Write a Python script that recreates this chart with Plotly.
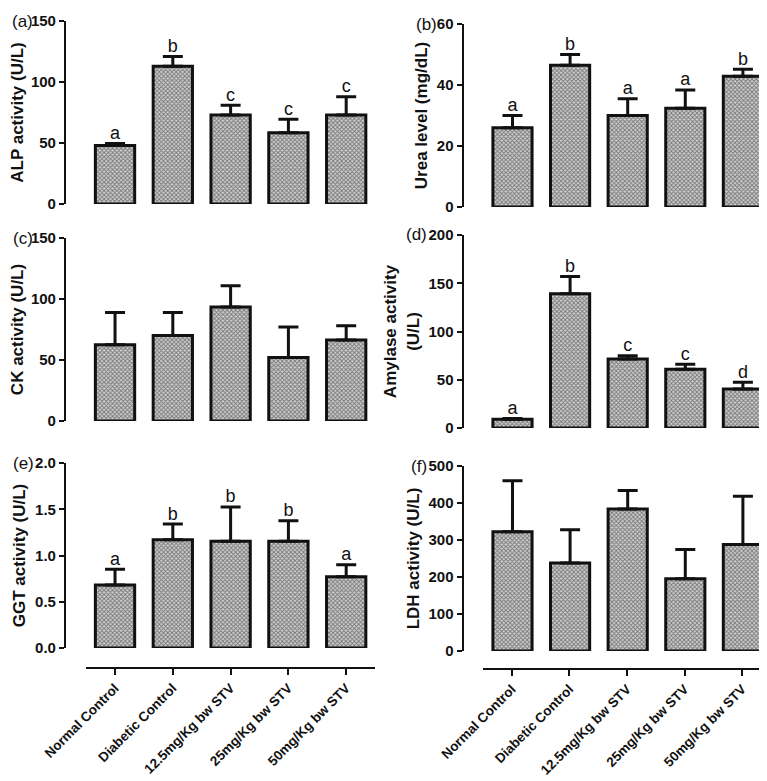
import plotly.graph_objects as go

groups = ['Normal Control', 'Diabetic Control', '12.5mg/Kg bw STV',
          '25mg/Kg bw STV', '50mg/Kg bw STV']

alp = [48, 113, 73, 58.5, 73]
alp_err = [1.5, 8, 8, 11, 15]
alp_letters = ['a', 'b', 'c', 'c', 'c']

urea = [26, 46.5, 30, 32.4, 42.9]
urea_err = [4, 3.5, 5.5, 6, 2.3]
urea_letters = ['a', 'b', 'a', 'a', 'b']

ck = [62.5, 70, 93.4, 52, 66.4]
ck_err = [26.5, 19, 17.5, 25, 11.7]

amylase = [9, 139, 71.5, 61, 40.4]
amylase_err = [0.8, 18, 3.5, 5, 7]
amylase_letters = ['a', 'b', 'c', 'c', 'd']

ggt = [0.68, 1.17, 1.155, 1.155, 0.77]
ggt_err = [0.17, 0.17, 0.37, 0.22, 0.13]
ggt_letters = ['a', 'b', 'b', 'b', 'a']

ldh = [322, 238, 384, 195, 288]
ldh_err = [138, 90, 50, 79, 130]

FONT = 'Liberation Sans'
W, H = 767, 781

def py(p):
    # pixel row -> paper y
    return 1 - p / H

# (values, errors, letters, y max, dtick, title, label, label gap, x domain, y domain, tickformat)
panels = [
    (alp, alp_err, alp_letters, 150, 50, 'ALP activity (U/L)', '(a)', 31,
     [0.0755, 0.4786], [py(196), py(13)], None),
    (urea, urea_err, urea_letters, 60, 20, 'Urea level (mg/dL)', '(b)', 25,
     [0.5939, 0.9957], [py(199), py(16)], None),
    (ck, ck_err, None, 150, 50, 'CK activity (U/L)', '(c)', 31,
     [0.0755, 0.4786], [py(413), py(230)], None),
    (amylase, amylase_err, amylase_letters, 200, 50, 'Amylase activity<br>(U/L)', '(d)', 35,
     [0.5939, 0.9957], [py(420), py(227)], None),
    (ggt, ggt_err, ggt_letters, 2.0, 0.5, 'GGT activity (U/L)', '(e)', 30,
     [0.0755, 0.4786], [py(640), py(455)], '.1f'),
    (ldh, ldh_err, None, 500, 100, 'LDH activity (U/L)', '(f)', 35,
     [0.5939, 0.9957], [py(643), py(458)], None),
]

fig = go.Figure()
layout = {}
annotations = []

for i, (vals, errs, letters, ymax, dt, title, lab, gap, xd, yd, tf) in enumerate(panels, start=1):
    xa = 'x' if i == 1 else f'x{i}'
    ya = 'y' if i == 1 else f'y{i}'
    fig.add_trace(go.Bar(
        x=groups, y=vals, xaxis=xa, yaxis=ya, width=0.68,
        marker=dict(color='#8a8a8a',
                    line=dict(color='#111111', width=3),
                    pattern=dict(shape='x', size=3, solidity=0.5,
                                 fgcolor='#1a1a1a', bgcolor='#d0d0d0')),
        error_y=dict(type='data', symmetric=False, array=errs,
                     arrayminus=[0] * len(errs), thickness=3, width=10,
                     color='#111111'),
        cliponaxis=False, showlegend=False
    ))
    if letters:
        fig.add_trace(go.Scatter(
            x=groups, y=[v + e for v, e in zip(vals, errs)],
            xaxis=xa, yaxis=ya, mode='text', text=letters,
            textposition='top center',
            textfont=dict(family=FONT, size=18, color='#111111'),
            cliponaxis=False, showlegend=False, hoverinfo='skip'
        ))
    key = '' if i == 1 else str(i)
    layout['xaxis' + key] = dict(
        domain=xd, anchor=ya, type='category', range=[-0.85, 4.5],
        showline=False, showticklabels=False, ticks='', showgrid=False,
        zeroline=False, fixedrange=True, automargin=False)
    layout['yaxis' + key] = dict(
        domain=yd, anchor=xa, range=[0, ymax], dtick=dt, tick0=0,
        tickformat=tf, showline=True, linecolor='#111111', linewidth=2,
        ticks='outside', ticklen=5, tickwidth=2, tickcolor='#111111',
        showgrid=False, zeroline=False, automargin=False,
        tickfont=dict(family=FONT, size=15, color='#111111', weight='bold'),
        title=dict(text=title, standoff=5,
                   font=dict(family=FONT, size=17, color='#111111', weight='bold')))
    annotations.append(dict(
        text=lab, xref='paper', yref='paper',
        x=xd[0] - gap / W, y=yd[1],
        xanchor='right', yanchor='middle', showarrow=False,
        font=dict(family=FONT, size=17, color='#111111')))

# offset category axes under the bottom panels, each on its own hidden y axis
for n, (yd, xd, pos) in enumerate([([py(640), py(455)], [78 / W, 367 / W], py(660)),
                                   ([py(643), py(458)], [475 / W, 763 / W], py(661))], start=7):
    fig.add_trace(go.Scatter(
        x=groups, y=[0] * len(groups), xaxis=f'x{n}', yaxis=f'y{n}',
        mode='markers', marker=dict(opacity=0), showlegend=False,
        hoverinfo='skip'))
    layout[f'xaxis{n}'] = dict(
        domain=xd, anchor='free', position=pos, type='category',
        range=[-0.5, 4.5], showline=True, linecolor='#111111', linewidth=2,
        ticks='outside', ticklen=6, tickwidth=2, tickcolor='#111111',
        tickangle=-45, showgrid=False, zeroline=False, automargin=False,
        tickfont=dict(family=FONT, size=13.5, color='#111111', weight='bold'))
    layout[f'yaxis{n}'] = dict(domain=yd, anchor=f'x{n}', visible=False,
                               range=[0, 1], automargin=False)

fig.update_layout(
    width=W, height=H, margin=dict(l=0, r=0, t=0, b=0),
    plot_bgcolor='rgba(0,0,0,0)', paper_bgcolor='white',
    bargap=0.3, annotations=annotations, **layout)

fig.write_html("out.html")
